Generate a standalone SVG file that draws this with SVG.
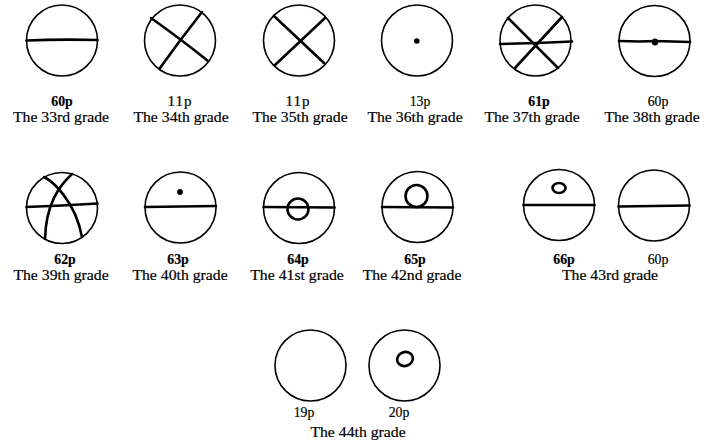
<svg xmlns="http://www.w3.org/2000/svg" width="704" height="444" viewBox="0 0 704 444">
<style>
.o{fill:none;stroke:#000;stroke-width:1.6}
.l{fill:none;stroke:#000;stroke-width:2.6;stroke-linecap:round;stroke-linejoin:round}
.d{fill:#000}
.n{font-family:"Liberation Serif","Times New Roman",serif;font-size:15px;text-anchor:middle;fill:#000;stroke:#000;stroke-width:0.2}
.b{font-weight:bold}
.g{font-family:"Liberation Serif","Times New Roman",serif;font-size:15px;text-anchor:middle;fill:#000;stroke:#000;stroke-width:0.2}
</style>
<rect width="704" height="444" fill="#fff"/>
<g id="g33">
<circle class="o" cx="62" cy="40.5" r="35.5"/>
<path class="l" d="M26.5,40.5 Q62,39 97.5,40"/>
<text class="n b" transform="translate(62,106) scale(0.92,1)">60p</text>
<text class="g" transform="translate(61,122) scale(1.05,1)">The 33rd grade</text>
</g>
<g id="g34">
<circle class="o" cx="180" cy="40.5" r="35.5"/>
<path class="l" d="M151,18 Q182,40 208,61"/>
<path class="l" d="M202,12 Q180,40 160,68"/>
<text class="n" transform="translate(180,106)" letter-spacing="1">11p</text>
<text class="g" transform="translate(181,122) scale(1.05,1)">The 34th grade</text>
</g>
<g id="g35">
<circle class="o" cx="299" cy="40.5" r="35.5"/>
<path class="l" d="M274,16 L324,63"/>
<path class="l" d="M325,18 L275,65"/>
<text class="n" transform="translate(298,106)" letter-spacing="1">11p</text>
<text class="g" transform="translate(300,122) scale(1.05,1)">The 35th grade</text>
</g>
<g id="g36">
<circle class="o" cx="417" cy="40.5" r="35.5"/>
<circle class="d" cx="416.8" cy="41" r="2.8"/>
<text class="n" transform="translate(420,106) scale(0.92,1)">13p</text>
<text class="g" transform="translate(415,122) scale(1.05,1)">The 36th grade</text>
</g>
<g id="g37">
<circle class="o" cx="535.5" cy="40.5" r="35.5"/>
<path class="l" d="M500,44 L537,43 L572,41.5"/>
<path class="l" d="M508,18 L558,68"/>
<path class="l" d="M562,17 L515,68"/>
<text class="n b" transform="translate(539,106) scale(0.92,1)">61p</text>
<text class="g" transform="translate(532,122) scale(1.05,1)">The 37th grade</text>
</g>
<g id="g38">
<circle class="o" cx="654.5" cy="41" r="35.5"/>
<path class="l" d="M619,41 L640,41.5 L655,41 L690,42"/>
<ellipse class="d" cx="655" cy="42" rx="3.2" ry="3.5"/>
<text class="n" transform="translate(658,106) scale(0.92,1)">60p</text>
<text class="g" transform="translate(652,122) scale(1.05,1)">The 38th grade</text>
</g>
<g id="g39">
<circle class="o" cx="62" cy="208" r="35.5"/>
<path class="l" d="M26.5,207 L62,205.5 L97.5,203.5"/>
<path class="l" d="M44,177 C52,181 75,200 82,237"/>
<path class="l" d="M72,174 C58,187 46,205 45,239"/>
<text class="n b" transform="translate(65,264) scale(0.92,1)">62p</text>
<text class="g" transform="translate(61,280) scale(1.05,1)">The 39th grade</text>
</g>
<g id="g40">
<circle class="o" cx="180.5" cy="207.5" r="35.5"/>
<path class="l" d="M145,207 L216,206"/>
<circle class="d" cx="180" cy="192" r="2.9"/>
<text class="n b" transform="translate(178,264) scale(0.92,1)">63p</text>
<text class="g" transform="translate(180,280) scale(1.05,1)">The 40th grade</text>
</g>
<g id="g41">
<circle class="o" cx="299" cy="208" r="35.5"/>
<path class="l" d="M263.5,207 L334.5,207.5"/>
<circle class="l" cx="298" cy="209" r="10.5"/>
<text class="n b" transform="translate(298,264) scale(0.92,1)">64p</text>
<text class="g" transform="translate(297,280) scale(1.05,1)">The 41st grade</text>
</g>
<g id="g42">
<circle class="o" cx="417.5" cy="207" r="35.5"/>
<path class="l" d="M382,207 L453,207.5"/>
<circle class="l" cx="416.5" cy="196" r="11"/>
<text class="n b" transform="translate(415,264) scale(0.92,1)">65p</text>
<text class="g" transform="translate(412,280) scale(1.05,1)">The 42nd grade</text>
</g>
<g id="g43">
<circle class="o" cx="559" cy="205" r="35.5"/>
<path class="l" d="M523.5,205 L594.5,205"/>
<ellipse class="l" cx="559" cy="188" rx="6.5" ry="5"/>
<circle class="o" cx="654" cy="205.5" r="35.5"/>
<path class="l" d="M618.5,206.5 L689.5,205.5"/>
<text class="n b" transform="translate(564,264) scale(0.92,1)">66p</text>
<text class="n" transform="translate(658,264) scale(0.92,1)">60p</text>
<text class="g" transform="translate(610,280) scale(1.05,1)">The 43rd grade</text>
</g>
<g id="g44">
<circle class="o" cx="310.5" cy="365.5" r="35.5"/>
<circle class="o" cx="404.5" cy="365.5" r="35.5"/>
<ellipse class="l" cx="405" cy="359" rx="8" ry="7" transform="rotate(-20 405 359)"/>
<text class="n" transform="translate(304,417) scale(0.92,1)">19p</text>
<text class="n" transform="translate(399,417) scale(0.92,1)">20p</text>
<text class="g" transform="translate(358,437) scale(1.05,1)">The 44th grade</text>
</g>
</svg>
